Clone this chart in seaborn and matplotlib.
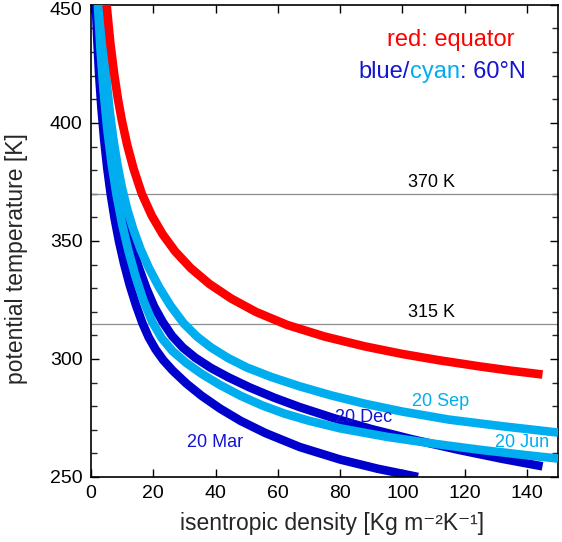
import matplotlib
matplotlib.use("Agg")
import matplotlib.pyplot as plt
from matplotlib.ticker import MultipleLocator
import seaborn as sns
import pandas as pd

# ---- data ----
red_x = [5.0, 6.2, 7.4, 8.6, 9.9, 11.6, 13.7, 16.3, 19.5, 23, 27, 32, 38, 45, 53, 63, 75, 88, 100, 112, 125, 135, 145]
red_y = [450, 433.7, 421.0, 410.4, 401.0, 390.7, 380.4, 370, 360.7, 352.8, 345.6, 338.5, 331.8, 325.6, 319.9, 314.4, 309.5, 305.3, 302.1, 299.4, 296.8, 295.0, 293.4]

mar_x = [1.55, 2.0, 2.6, 3.3, 4.2, 5.2, 6.3, 7.6, 9.0, 10.6, 12.4, 14.4, 16.5, 18.5, 20.7, 23.2, 26.2, 30.7, 35.5, 41.4, 48, 56, 67, 80, 92, 105]
mar_y = [450, 435.4, 420.4, 406.9, 393.1, 380.9, 370, 359.3, 349.7, 340.4, 331.4, 322.9, 315.2, 309.2, 304.1, 299.5, 295.1, 289.5, 284.4, 279.0, 273.8, 268.6, 262.7, 257.4, 253.5, 250.0]

dec_x = [2.4, 3.2, 4.3, 5.8, 7.6, 9.3, 11.2, 13.2, 15.4, 17.8, 20.3, 23.0, 26.0, 29.5, 33.5, 38.5, 44, 51, 59, 67, 78, 90, 103, 118, 132, 145]
dec_y = [450, 432.7, 414.9, 397.0, 380.8, 368.7, 357.5, 347.7, 338.5, 329.8, 322.1, 315.7, 309.8, 304.8, 300.5, 296.2, 292.3, 287.9, 283.5, 279.6, 274.9, 270.3, 266.0, 261.5, 257.7, 254.5]

jun_x = [2.2, 3.0, 4.0, 5.2, 6.6, 8.2, 10.0, 12.0, 14.3, 16.9, 19.7, 22.7, 26.2, 30.5, 35.5, 41.4, 48, 55, 62, 70, 80, 95, 110, 125, 140, 150]
jun_y = [450, 431.7, 413.9, 397.6, 382.8, 369.4, 357.0, 345.8, 334.9, 324.5, 315.6, 308.8, 303.3, 298.4, 293.7, 289.0, 284.4, 280.3, 276.9, 273.8, 270.6, 267.0, 264.1, 261.5, 259.2, 257.8]

sep_x = [3.2, 3.5, 4.2, 5.0, 6.0, 7.1, 8.4, 9.9, 11.6, 13.6, 15.9, 18.6, 21.8, 25.5, 29.8, 34, 38.5, 44, 50, 58, 67, 77, 88, 100, 115, 132, 150]
sep_y = [450.5, 443.7, 430.2, 417.7, 404.9, 393.6, 382.8, 372.7, 363.5, 354.8, 346.5, 338.5, 330.5, 322.6, 315, 309.5, 304.9, 300.4, 296.4, 292.3, 288.4, 284.6, 281.0, 277.7, 274.3, 271.5, 268.8]

ref_levels = [370, 315]
ref_labels = ["370 K", "315 K"]
curve_labels = ["20 Mar", "20 Dec", "20 Sep", "20 Jun"]
y_ticks = [250, 300, 350, 400, 450]
y_ticklabels = ["250", "300", "350", "400", "450"]
x_ticks = [0, 20, 40, 60, 80, 100, 120, 140]

RED = "#FF0000"
BLUE = "#0000CC"
CYAN = "#00AEEF"
LBLUE = "#1414D2"

sns.set_style("ticks")
plt.rcParams["font.family"] = ["Liberation Sans", "DejaVu Sans"]

fig = plt.figure(figsize=(5.62, 5.42), dpi=100)
ax = fig.add_axes([0.162, 0.120, 0.831, 0.871])

# reference isentropes
for lev in ref_levels:
    ax.axhline(lev, color="#8c8c8c", lw=0.9, zorder=1)

lw = 6.2
def draw(x, y, color, z):
    df = pd.DataFrame({"x": x, "y": y})
    sns.lineplot(data=df, x="x", y="y", ax=ax, color=color, lw=lw, sort=False,
                 estimator=None, zorder=z, solid_capstyle="butt", solid_joinstyle="round")

draw(mar_x, mar_y, BLUE, 2)
draw(dec_x, dec_y, BLUE, 2)
draw(jun_x, jun_y, CYAN, 3)
draw(sep_x, sep_y, CYAN, 3)
draw(red_x, red_y, RED, 4)

ax.set_xlim(0, 150)
ax.set_ylim(250, 450)
ax.set_xticks(x_ticks)
# top label "450" drawn separately (nudged down to stay inside the figure)
ax.set_yticks(y_ticks, labels=y_ticklabels[:-1] + [""])
ax.yaxis.set_minor_locator(MultipleLocator(10))
ax.tick_params(axis="both", which="major", direction="in", length=6, width=1.0,
               top=True, right=True, labelsize=14, pad=6, colors="black")
ax.tick_params(axis="y", which="minor", direction="in", length=4, width=1.0,
               left=True, right=True)
for s in ax.spines.values():
    s.set_linewidth(1.2)
    s.set_color("black")
ax.annotate(y_ticklabels[-1], xy=(0, y_ticks[-1]), xycoords=("axes fraction", "data"),
            xytext=(-6, -4), textcoords="offset points", ha="right", va="center",
            fontsize=14, color="black", annotation_clip=False)

ax.set_xlabel("isentropic density [Kg m\u207b\u00b2K\u207b\u00b9]", fontsize=16.5)
ax.set_ylabel("potential temperature [K]", fontsize=16.5)
ax.xaxis.set_label_coords(0.516, -0.074)
ax.yaxis.set_label_coords(-0.135, 0.463)

# level labels
for lev, lab in zip(ref_levels, ref_labels):
    ax.text(109.5, lev + 1.2, lab, fontsize=13, ha="center", va="bottom", color="black")

# curve labels
ax.text(39.8, 264.8, curve_labels[0], fontsize=13, color=LBLUE, ha="center", va="center")
ax.text(87.4, 275.0, curve_labels[1], fontsize=13, color=LBLUE, ha="center", va="center")
ax.text(112.4, 281.8, curve_labels[2], fontsize=13, color=CYAN, ha="center", va="center")
ax.text(138.5, 264.8, curve_labels[3], fontsize=13, color=CYAN, ha="center", va="center")

# legend-like annotation
ax.text(0.770, 0.912, "red: equator", transform=ax.transAxes, fontsize=17, color=RED,
        ha="center", va="baseline")
fig.canvas.draw()
r = fig.canvas.get_renderer()
parts = [("blue/", LBLUE), ("cyan", CYAN), (": 60°N", LBLUE)]
x0 = 0.572
inv = ax.transAxes.inverted()
for txt, col in parts:
    t = ax.text(x0, 0.845, txt, transform=ax.transAxes, fontsize=17, color=col,
                ha="left", va="baseline")
    bb = t.get_window_extent(renderer=r)
    x0 = inv.transform((bb.x1, bb.y0))[0]

fig.savefig("out.png", dpi=100)
